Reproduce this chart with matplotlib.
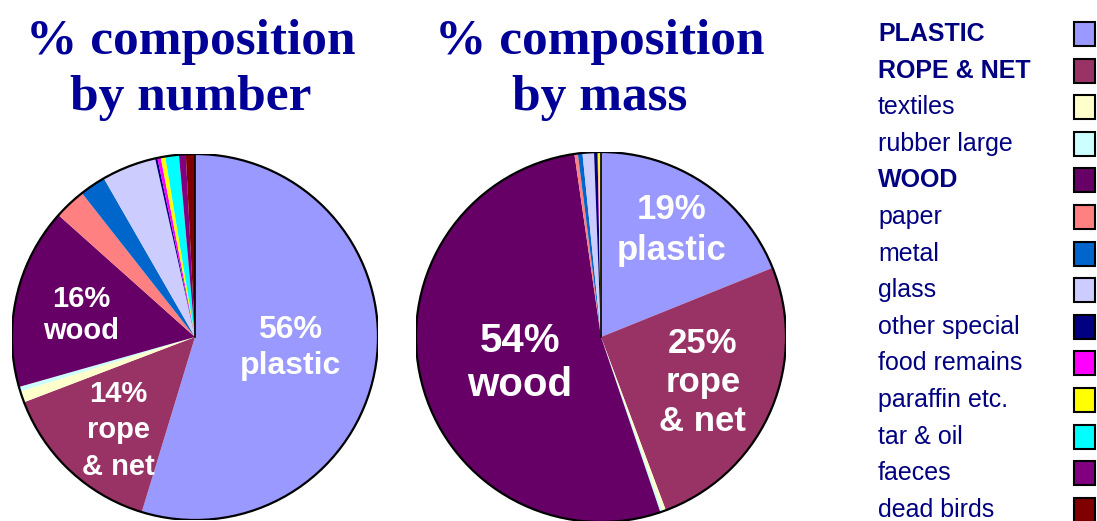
import matplotlib
matplotlib.use("Agg")
import matplotlib.pyplot as plt
from matplotlib.patches import Circle, Rectangle

categories = ["PLASTIC", "ROPE & NET", "textiles", "rubber large", "WOOD", "paper",
              "metal", "glass", "other special", "food remains", "paraffin etc.",
              "tar & oil", "faeces", "dead birds"]
bold_cats = {"PLASTIC", "ROPE & NET", "WOOD"}
colors = ["#9999FF", "#993366", "#FFFFCC", "#CCFFFF", "#660066", "#FF8080",
          "#0066CC", "#CCCCFF", "#000080", "#FF00FF", "#FFFF00", "#00FFFF",
          "#800080", "#800000"]

by_number = [54.7, 14.5, 1.0, 0.4, 16.0, 2.8, 2.3, 4.8, 0.2, 0.3, 0.4, 1.2, 0.6, 0.8]
by_mass = [18.9, 25.4, 0.3, 0.2, 52.9, 0.3, 0.4, 1.0, 0.3, 0.05, 0.25, 0.0, 0.0, 0.0]

titles = ["% composition\nby number", "% composition\nby mass"]
# (text, x, y, fontsize, linespacing)
labels_number = [("56%\nplastic", 0.52, -0.06, 23, 1.27),
                 ("16%\nwood", -0.62, 0.12, 21, 1.2),
                 ("14%\nrope\n& net", -0.42, -0.51, 21, 1.4)]
labels_mass = [("19%\nplastic", 0.38, 0.58, 25, 1.3),
               ("25%\nrope\n& net", 0.55, -0.245, 25, 1.24),
               ("54%\nwood", -0.44, -0.14, 29, 1.18)]

W, H = 1097, 521
fig = plt.figure(figsize=(W / 100, H / 100), dpi=100)
navy = "#000080"
title_col = "#000099"


def pie_axes(cx, cy, r):
    return fig.add_axes([(cx - r) / W, (H - cy - r) / H, 2 * r / W, 2 * r / H])


def draw_pie(ax, values, labels):
    ax.pie(values, colors=colors, startangle=90, counterclock=False, radius=1,
           wedgeprops=dict(edgecolor="none", linewidth=0))
    ax.add_patch(Circle((0, 0), 1, fill=False, ec="black", lw=1.6, zorder=5))
    ax.plot([0, 0], [0, 1], color="black", lw=1.2, zorder=5)
    for txt, x, y, fs, ls in labels:
        ax.text(x, y, txt, ha="center", va="center", color="white",
                fontsize=fs, fontweight="bold", family="Liberation Sans",
                linespacing=ls, zorder=6)
    ax.set_xlim(-1, 1)
    ax.set_ylim(-1, 1)
    ax.set_aspect("equal")
    ax.axis("off")


ax1 = pie_axes(195, 337, 183)
draw_pie(ax1, by_number, labels_number)
ax2 = pie_axes(601, 337, 185)
draw_pie(ax2, by_mass, labels_mass)

for t, xc in zip(titles, [191, 600]):
    fig.text(xc / W, 1 - 70 / H, t, ha="center", va="center", color=title_col,
             fontsize=37, fontweight="bold", family="Liberation Serif",
             linespacing=1.27)

for i, (cat, col) in enumerate(zip(categories, colors)):
    yc = 34 + 36.6 * i
    fig.text(878 / W, 1 - yc / H, cat, ha="left", va="center", color=navy,
             fontsize=18, fontweight="bold" if cat in bold_cats else "normal",
             family="Liberation Sans")
    fig.patches.append(Rectangle((1074 / W, 1 - (yc + 12) / H), 21 / W, 24 / H,
                                 transform=fig.transFigure, facecolor=col,
                                 edgecolor="black", lw=1.5))

fig.savefig("out.png", dpi=100)
